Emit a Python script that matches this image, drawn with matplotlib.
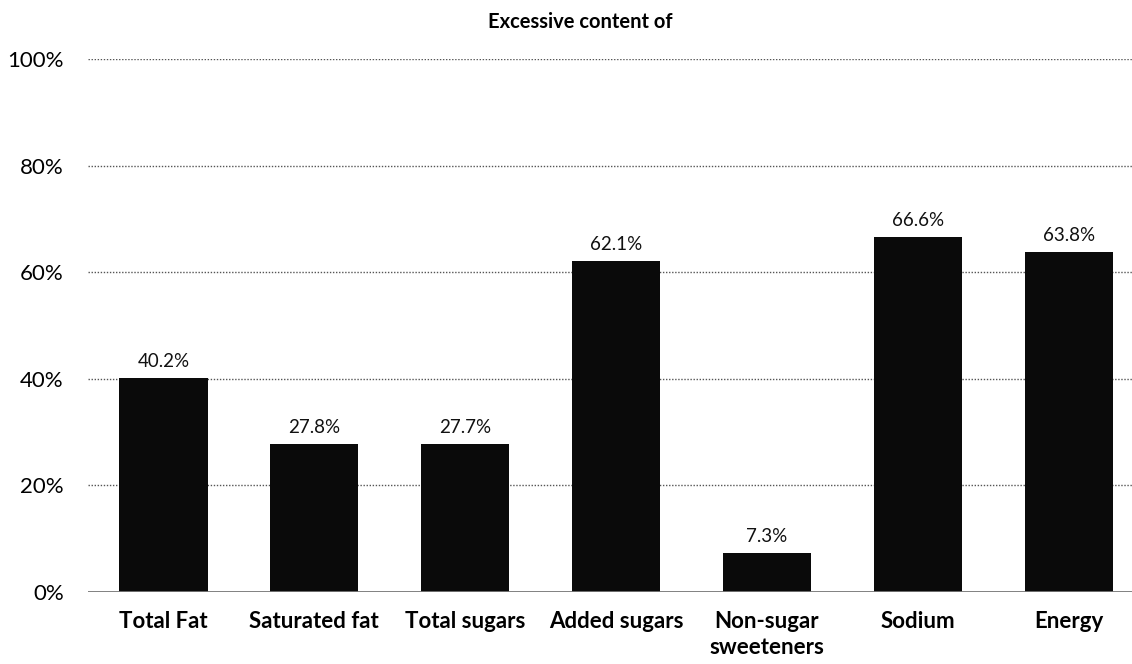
import matplotlib
matplotlib.use("Agg")
import matplotlib.pyplot as plt
from matplotlib.ticker import PercentFormatter

categories = ["Total Fat", "Saturated fat", "Total sugars", "Added sugars",
              "Non-sugar\nsweeteners", "Sodium", "Energy"]
values = [40.2, 27.8, 27.7, 62.1, 7.3, 66.6, 63.8]
yticks = [0, 20, 40, 60, 80, 100]

plt.rcParams['font.family'] = ['Lato', 'DejaVu Sans']

fig = plt.figure(figsize=(11.32, 6.64), dpi=100)
ax = fig.add_axes([88 / 1132, 72 / 664, 1 - 88 / 1132, (592 - 59) / 664])

x = list(range(len(categories)))
ax.bar(x, values, width=0.585, color="#0a0a0a", zorder=3)

for xi, v in zip(x, values):
    ax.text(xi, v + 1.5, f"{v:.1f}%", ha="center", va="bottom",
            fontsize=13.5, color="#111111")

ax.set_ylim(0, 100)
ax.set_xlim(-0.5, 6.42)
ax.set_yticks(yticks)
ax.yaxis.set_major_formatter(PercentFormatter(decimals=0))
ax.set_xticks(x)
ax.set_xticklabels(categories, fontsize=16, fontweight="bold", linespacing=1.25)
ax.tick_params(axis="y", labelsize=16, length=0, pad=17.5)
ax.tick_params(axis="x", length=0, pad=14)

for t in yticks[1:]:
    ax.axhline(t, color="#555555", linestyle=(0, (1, 1.2)), linewidth=1.0, zorder=1)
ax.axhline(0, color="#777777", linewidth=1.3, zorder=4)

for s in ax.spines.values():
    s.set_visible(False)

fig.text(580 / 1132, 1 - 22 / 664, "Excessive content of", ha="center", va="center",
         fontsize=14.5, fontweight="bold")

fig.savefig("out.png", dpi=100)
